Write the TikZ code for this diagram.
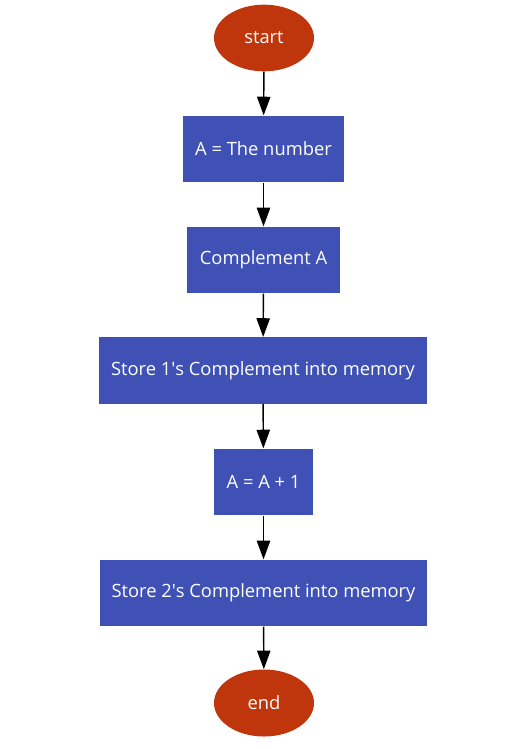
\documentclass[tikz,border=0pt]{standalone}
\usepackage{fontspec}
\setmainfont{Open Sans}
\usetikzlibrary{arrows.meta,shapes.geometric}
\definecolor{boxblue}{HTML}{3F51B5}
\definecolor{ovalred}{HTML}{BF360C}
\begin{document}
\begin{tikzpicture}[x=0.75pt,y=-0.75pt,
  every node/.style={font=\fontsize{13.75pt}{16pt}\selectfont, text=white, inner sep=0pt},
  oval/.style={ellipse, fill=ovalred, minimum width=75pt, minimum height=50pt},
  procbox/.style={rectangle, fill=boxblue, minimum height=50pt},
  flow/.style={draw=black, line width=1.1pt, -{Triangle[length=14pt,width=10pt]}}]
\useasboundingbox (0,0) rectangle (531,749);
\node[oval] (start) at (264,38) {start};
\node[procbox, minimum width=120.75pt] (a) at (263.5,149) {A = The number};
\node[procbox, minimum width=114.75pt] (b) at (263.5,260) {Complement A};
\node[procbox, minimum width=246pt] (c) at (263,370.5) {Store 1\textquotesingle s Complement into memory};
\node[procbox, minimum width=74.25pt] (d) at (263.5,482) {A = A + 1};
\node[procbox, minimum width=245.25pt] (e) at (263.5,593) {Store 2\textquotesingle s Complement into memory};
\node[oval, minimum height=50.25pt] (end) at (264,703) {end};
\draw[flow] (start) -- (a);
\draw[flow] (a) -- (b);
\draw[flow] (b) -- (c);
\draw[flow] (c) -- (d);
\draw[flow] (d) -- (e);
\draw[flow] (e) -- (end);
\end{tikzpicture}
\end{document}
